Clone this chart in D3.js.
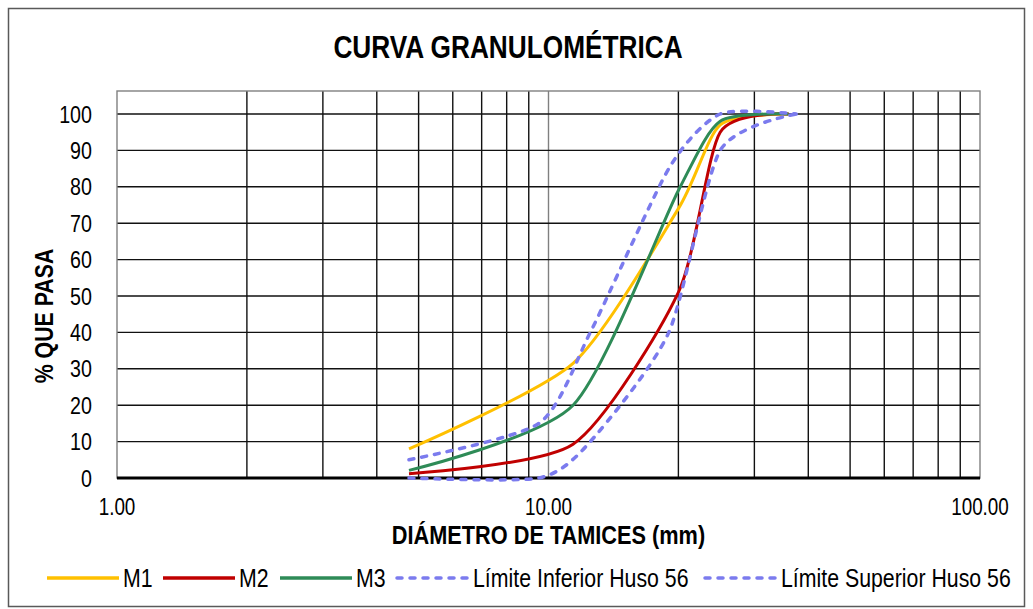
<!DOCTYPE html>
<html>
<head>
<meta charset="utf-8">
<script src="https://cdn.jsdelivr.net/npm/d3@7"></script>
<style>
  body { margin: 0; background: #fff; }
  text { font-family: "Liberation Sans", Arial, sans-serif; fill: #000; }
</style>
</head>
<body>
<div id="chart"></div>
<script>
// sieve openings (mm)
const sieveM = [4.75, 11.4, 20, 25, 36];
const sieveHuso = [4.75, 9.5, 12.5, 19, 25, 37.5];

// % que pasa
const m1 = [8, 31.5, 74, 97, 100];
const m2 = [1.2, 9.3, 51, 95, 100];
const m3 = [2.1, 20, 79, 98, 100];
const husoInf = [0, 0, 10, 40, 90, 100];
const husoSup = [5, 15, 40, 85, 100, 100];

const xTicks = [1, 10, 100];
const yTicks = [0, 10, 20, 30, 40, 50, 60, 70, 80, 90, 100];

const series = [
    { name: 'M1', x: sieveM, y: m1, color: '#FFC000', dash: null },
    { name: 'M2', x: sieveM, y: m2, color: '#C00000', dash: null },
    { name: 'M3', x: sieveM, y: m3, color: '#2E8B57', dash: null },
    { name: 'Límite Inferior Huso 56', x: sieveHuso, y: husoInf, color: '#7B7BEE', dash: '5,8' },
    { name: 'Límite Superior Huso 56', x: sieveHuso, y: husoSup, color: '#7B7BEE', dash: '5,8' }
];

const width = 1033, height = 609;
const plot = { left: 117, right: 980, top: 91, bottom: 478 };
const narrow = 0.82; // no Arial Narrow available, squeeze instead

const svg = d3.select('#chart')
    .append('svg')
    .attr('width', width)
    .attr('height', height);

// text helper: narrow look through horizontal scaling
function label(g, tx, ty, size, bold, anchor, str, rotate) {
    return g.append('text')
        .attr('transform', `translate(${tx},${ty})` + (rotate ? ' rotate(-90)' : '') + ` scale(${narrow},1)`)
        .attr('text-anchor', anchor)
        .style('font-size', size + 'px')
        .style('font-weight', bold ? 'bold' : 'normal')
        .text(str);
}

// outer frame
svg.append('rect')
    .attr('x', 8.5).attr('y', 8.5)
    .attr('width', 1016).attr('height', 598)
    .attr('fill', '#fff')
    .attr('stroke', '#595959')
    .attr('stroke-width', 1.5);

const x = d3.scaleLog()
    .domain([1, 100])
    .range([plot.left, plot.right]);

const y = d3.scaleLinear()
    .domain([0, 100])
    .range([plot.bottom, 114]);

// vertical log grid
const logGrid = x.ticks().filter(v => v > 1 && v < 100);
svg.append('g')
    .selectAll('line')
    .data(logGrid)
    .enter()
    .append('line')
    .attr('x1', d => x(d)).attr('x2', d => x(d))
    .attr('y1', plot.top).attr('y2', plot.bottom)
    .attr('stroke', d => d === 10 ? '#808080' : '#111')
    .attr('stroke-width', 1.4);

// horizontal grid
svg.append('g')
    .selectAll('line')
    .data(yTicks.filter(v => v > 0))
    .enter()
    .append('line')
    .attr('x1', plot.left).attr('x2', plot.right)
    .attr('y1', d => y(d)).attr('y2', d => y(d))
    .attr('stroke', '#111')
    .attr('stroke-width', 1.4);

// plot frame
svg.append('rect')
    .attr('x', plot.left).attr('y', plot.top)
    .attr('width', plot.right - plot.left).attr('height', plot.bottom - plot.top)
    .attr('fill', 'none')
    .attr('stroke', '#808080')
    .attr('stroke-width', 1.4);

// x axis line
svg.append('line')
    .attr('x1', plot.left).attr('x2', plot.right)
    .attr('y1', y(0)).attr('y2', y(0))
    .attr('stroke', '#000')
    .attr('stroke-width', 3);

// tick labels
const labels = svg.append('g');
yTicks.forEach(v => label(labels, 92, y(v) + 8.5, 24, false, 'end', v));
xTicks.forEach(v => label(labels, x(v), 515, 23, false, 'middle', d3.format('.2f')(v)));

// titles
label(svg, 508, 58, 32, true, 'middle', 'CURVA GRANULOMÉTRICA');
label(svg, (plot.left + plot.right) / 2, 544, 26.5, true, 'middle', 'DIÁMETRO DE TAMICES (mm)');
label(svg, 53, 316, 26, true, 'middle', '% QUE PASA', true);

// curves
const line = d3.line()
    .x(d => x(d[0]))
    .y(d => y(d[1]))
    .curve(d3.curveCardinal.tension(0.3));

svg.append('g')
    .selectAll('path')
    .data(series)
    .enter()
    .append('path')
    .attr('d', s => line(s.x.map((v, i) => [v, s.y[i]])))
    .attr('fill', 'none')
    .attr('stroke', s => s.color)
    .attr('stroke-width', s => s.dash ? 3.5 : 3)
    .attr('stroke-linecap', s => s.dash ? 'round' : 'butt')
    .attr('stroke-dasharray', s => s.dash);

// legend
const legendX = [47, 163, 280, 397, 705];
const legend = svg.append('g')
    .selectAll('g')
    .data(series)
    .enter()
    .append('g')
    .attr('transform', (s, i) => `translate(${legendX[i]}, 578)`);

legend.append('line')
    .attr('x1', 0).attr('x2', 72)
    .attr('stroke', s => s.color)
    .attr('stroke-width', 3.5)
    .attr('stroke-linecap', s => s.dash ? 'round' : 'butt')
    .attr('stroke-dasharray', s => s.dash);

legend.each(function (s) {
    label(d3.select(this), 76, 9, 26, false, 'start', s.name);
});
</script>
</body>
</html>
